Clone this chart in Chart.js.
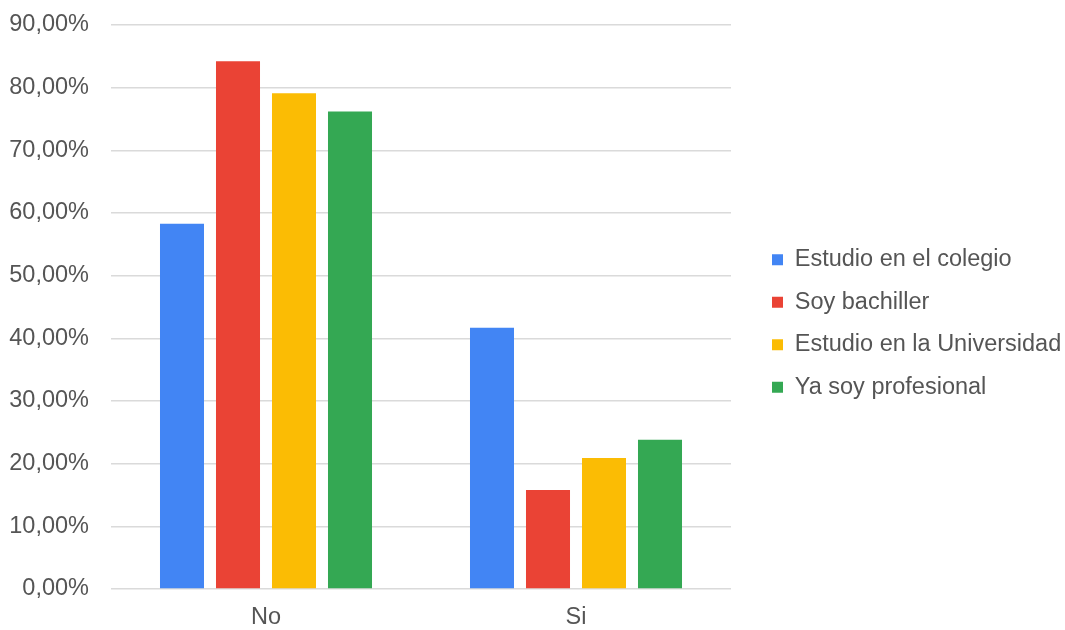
<!DOCTYPE html>
<html>
<head>
<meta charset="utf-8">
<script src="https://cdn.jsdelivr.net/npm/chart.js@4"></script>
<style>
  body { margin: 0; background: #fff; }
  #wrap { width: 1065px; height: 630px; }
</style>
</head>
<body>
<div id="wrap"><canvas id="barChart"></canvas></div>
<script>
const categories = ["No", "Si"];
const seriesNames = ["Estudio en el colegio", "Soy bachiller", "Estudio en la Universidad", "Ya soy profesional"];
const colegio = [58.3, 41.7];
const bachiller = [84.2, 15.8];
const universidad = [79.1, 20.9];
const profesional = [76.2, 23.8];
const yTicks = [0, 10, 20, 30, 40, 50, 60, 70, 80, 90];
const colors = ["#4285F4", "#EA4335", "#FBBC04", "#34A853"];

const allSeries = [colegio, bachiller, universidad, profesional];
const fontFamily = "'Liberation Sans', Arial, sans-serif";
const textSize = 23.5;

// legend takes a fixed strip on the right, items pushed a bit away from the plot
const legendWidth = 334;
const legendShiftX = 22;
const legendShiftY = 8.5;

const legendFix = {
  id: "legendFix",
  beforeLayout(chart) {
    const lg = chart.legend;
    if (lg && !lg._fixed) {
      const origFit = lg.fit.bind(lg);
      lg.fit = function () {
        origFit();
        this.width = legendWidth;
      };
      lg._fixed = true;
    }
  },
  afterLayout(chart) {
    const lg = chart.legend;
    lg.left += legendShiftX;
    lg.right += legendShiftX;
    lg.top += legendShiftY;
    lg.bottom += legendShiftY;
  }
};

const ctx = document.getElementById("barChart").getContext("2d");
const chart = new Chart(ctx, {
  type: "bar",
  data: {
    labels: categories,
    datasets: allSeries.map((vals, i) => ({
      label: seriesNames[i],
      data: vals,
      backgroundColor: colors[i],
      categoryPercentage: 0.7226,
      barPercentage: 0.786
    }))
  },
  options: {
    responsive: true,
    maintainAspectRatio: false,
    animation: false,
    layout: { padding: { top: 0, right: 0, left: 6, bottom: 0 } },
    plugins: {
      legend: {
        position: "right",
        labels: {
          boxWidth: 11,
          boxHeight: 11,
          padding: 19,
          color: "#555",
          font: { family: fontFamily, size: textSize }
        }
      },
      tooltip: { enabled: false }
    },
    scales: {
      x: {
        grid: { display: false, drawTicks: false },
        border: { display: false },
        ticks: { color: "#555", font: { family: fontFamily, size: textSize }, padding: 14 },
        afterFit: (axis) => {
          axis.height = 41;
          axis.paddingLeft = 0;
          axis.paddingRight = 0;
        }
      },
      y: {
        min: 0,
        max: 90,
        afterBuildTicks: (axis) => { axis.ticks = yTicks.map(v => ({ value: v })); },
        grid: { color: "#dadada", lineWidth: 1.5, drawTicks: false },
        border: { display: false },
        ticks: {
          color: "#555",
          padding: 22,
          font: { family: fontFamily, size: textSize },
          callback: (v) => v.toFixed(2).replace(".", ",") + "%"
        },
        afterFit: (axis) => {
          axis.width = 105;
          axis.paddingTop = 25;
          axis.paddingBottom = 0;
        }
      }
    }
  },
  plugins: [legendFix]
});
</script>
</body>
</html>
